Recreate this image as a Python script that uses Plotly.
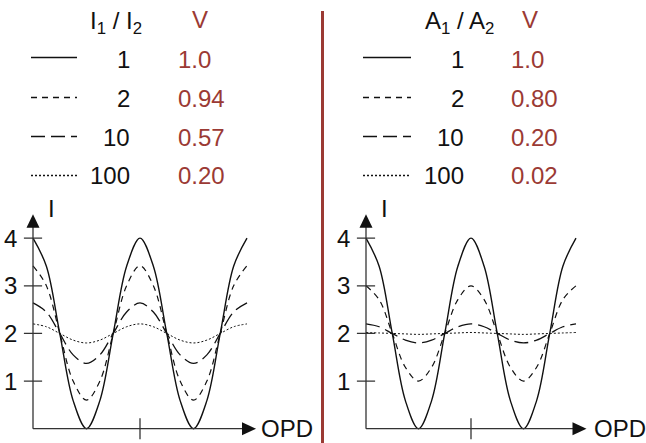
import plotly.graph_objects as go

# ---------------- data ----------------
# OPD positions (in fringe periods), 1/8-period steps over two periods
opd = [i / 8 for i in range(17)]

# one period of readings (x = 0 .. 1), repeated for the 2nd period
left_ratio_labels = ["1", "2", "10", "100"]
left_visibility = ["1.0", "0.94", "0.57", "0.20"]
left_r1 = [4.0, 3.41, 2.0, 0.59, 0.0, 0.59, 2.0, 3.41, 4.0]
left_r2 = [3.42, 3.0, 2.0, 1.0, 0.6, 1.0, 2.0, 3.0, 3.42]
left_r10 = [2.64, 2.45, 2.0, 1.55, 1.37, 1.55, 2.0, 2.45, 2.64]
left_r100 = [2.2, 2.14, 2.0, 1.86, 1.8, 1.86, 2.0, 2.14, 2.2]

right_ratio_labels = ["1", "2", "10", "100"]
right_visibility = ["1.0", "0.80", "0.20", "0.02"]
right_a1 = [4.0, 3.41, 2.0, 0.59, 0.0, 0.59, 2.0, 3.41, 4.0]
right_a2 = [3.0, 2.71, 2.0, 1.29, 1.0, 1.29, 2.0, 2.71, 3.0]
right_a10 = [2.2, 2.14, 2.0, 1.86, 1.8, 1.86, 2.0, 2.14, 2.2]
right_a100 = [2.02, 2.01, 2.0, 1.99, 1.98, 1.99, 2.0, 2.01, 2.02]

y_tick_values = [1, 2, 3, 4]
y_tick_labels = ["1", "2", "3", "4"]
x_tick_values = [1]

left_header = "I<sub>1</sub> / I<sub>2</sub>"
right_header = "A<sub>1</sub> / A<sub>2</sub>"
v_header = "V"
y_title = "I"
x_title = "OPD"

# ---------------- styling ----------------
W, H = 646, 443
FONT = "Liberation Sans, Arial, sans-serif"
FS = 24
RED = "#9b3a34"
AX = "#333333"
TXT = "#111111"
dashes = ["solid", "6px,5px", "14px,6px", "2px,2px"]
widths = [1.4, 1.2, 1.3, 1.0]
Y_TIP = 4.5


def two_periods(p):
    return p + p[1:]


fig = go.Figure()

panels = [
    dict(xa="x", ya="y", series=[left_r1, left_r2, left_r10, left_r100],
         ratios=left_ratio_labels, vis=left_visibility, header=left_header,
         x_end=2.084, opd_x=2.14, ylab_x=0.17,
         sw=(31, 77), num_right=132, v_left=176, head_c=116, v_c=199.5),
    dict(xa="x2", ya="y2", series=[right_a1, right_a2, right_a10, right_a100],
         ratios=right_ratio_labels, vis=right_visibility, header=right_header,
         x_end=2.1, opd_x=2.18, ylab_x=0.18,
         sw=(363, 411), num_right=466, v_left=509, head_c=459, v_c=529.5),
]

row_y = [59, 98, 137, 175.5]   # pixel rows of the key table
swatch_y = [57.5, 97.5, 136.5, 175.5]

annotations = []
shapes = []

for p in panels:
    xr, yr = p["xa"], p["ya"]
    # axis lines
    shapes.append(dict(type="line", xref=xr, yref=yr, x0=0, x1=0, y0=0, y1=Y_TIP - 0.15,
                       line=dict(color=AX, width=1.3)))
    shapes.append(dict(type="line", xref=xr, yref=yr, x0=0, x1=p["x_end"] - 0.08, y0=0, y1=0,
                       line=dict(color=AX, width=1.3)))
    # arrow heads (pixel-sized triangles anchored at the axis ends)
    shapes.append(dict(type="path", xref=xr, yref=yr, xsizemode="pixel", ysizemode="pixel",
                       xanchor=0, yanchor=Y_TIP, path="M-6.5,-13.5 L6.5,-13.5 L0,0 Z",
                       fillcolor="#111111", line=dict(width=0)))
    shapes.append(dict(type="path", xref=xr, yref=yr, xsizemode="pixel", ysizemode="pixel",
                       xanchor=p["x_end"], yanchor=0, path="M-14,-6.5 L-14,6.5 L0,0 Z",
                       fillcolor="#111111", line=dict(width=0)))

    for vals, d, w in zip(p["series"], dashes, widths):
        fig.add_trace(go.Scatter(
            x=opd, y=two_periods(vals), xaxis=xr, yaxis=yr,
            mode="lines", line=dict(color=TXT, width=w, dash=d,
                                    shape="spline", smoothing=1.0),
            hoverinfo="skip", showlegend=False))
    # y ticks (crossing the axis)
    fig.add_trace(go.Scatter(
        x=[0] * len(y_tick_values), y=y_tick_values, xaxis=xr, yaxis=yr,
        mode="markers", marker=dict(symbol="line-ew", size=13,
                                    line=dict(color=AX, width=1.3)),
        hoverinfo="skip", showlegend=False))
    # x tick
    fig.add_trace(go.Scatter(
        x=x_tick_values, y=[0] * len(x_tick_values), xaxis=xr, yaxis=yr,
        mode="markers", marker=dict(symbol="line-ns", size=15,
                                    line=dict(color=AX, width=1.3)),
        hoverinfo="skip", showlegend=False))

    # tick labels
    for tv, tl in zip(y_tick_values, y_tick_labels):
        annotations.append(dict(x=0, y=tv, xref=xr, yref=yr, text=tl,
                                showarrow=False, xanchor="right", yanchor="middle",
                                xshift=-14, font=dict(family=FONT, size=FS, color=TXT)))
    # axis titles
    annotations.append(dict(x=p["ylab_x"], y=4.62, xref=xr, yref=yr, text=y_title,
                            showarrow=False, xanchor="center", yanchor="middle",
                            font=dict(family=FONT, size=FS, color=TXT)))
    annotations.append(dict(x=p["opd_x"], y=0, xref=xr, yref=yr, text=x_title,
                            showarrow=False, xanchor="left", yanchor="middle",
                            xshift=-3, font=dict(family=FONT, size=FS, color=TXT)))

    # key table
    annotations.append(dict(x=p["head_c"] / W, y=1 - 22 / H, xref="paper", yref="paper",
                            text=p["header"], showarrow=False, xanchor="center",
                            yanchor="middle", font=dict(family=FONT, size=FS, color=TXT)))
    annotations.append(dict(x=p["v_c"] / W, y=1 - 20 / H, xref="paper", yref="paper",
                            text=v_header, showarrow=False, xanchor="center",
                            yanchor="middle", font=dict(family=FONT, size=FS, color=RED)))
    for ry, sy, r, v, d in zip(row_y, swatch_y, p["ratios"], p["vis"], dashes):
        shapes.append(dict(type="line", xref="paper", yref="paper",
                           x0=p["sw"][0] / W, x1=p["sw"][1] / W,
                           y0=1 - sy / H, y1=1 - sy / H,
                           line=dict(color=TXT, width=1.4, dash=d)))
        annotations.append(dict(x=p["num_right"] / W, y=1 - ry / H, xref="paper",
                                yref="paper", text=r, showarrow=False,
                                xanchor="right", yanchor="middle",
                                font=dict(family=FONT, size=FS, color=TXT)))
        annotations.append(dict(x=p["v_left"] / W, y=1 - ry / H, xref="paper",
                                yref="paper", text=v, showarrow=False,
                                xanchor="left", yanchor="middle",
                                font=dict(family=FONT, size=FS, color=RED)))

# red divider
shapes.append(dict(type="line", xref="paper", yref="paper",
                   x0=322.5 / W, x1=322.5 / W, y0=-0.05, y1=1 - 11 / H,
                   line=dict(color=RED, width=3)))

# axes: left x=0 at 33px (107 px/unit), right x=0 at 366px (105 px/unit)
xr_rng = [-0.1, 2.3]
lx0 = 33 - 0.1 * 107
rx0 = 366 - 0.1 * 105
ax_common = dict(visible=False, showgrid=False, zeroline=False, fixedrange=True)
# y: 0 at 429px, 47.7 px/unit
y_rng = [-0.3, 4.7]
y_bot = 429 + 0.3 * 47.7
y_top = y_bot - 5 * 47.7

fig.update_layout(
    width=W, height=H, autosize=False,
    margin=dict(l=0, r=0, t=0, b=0),
    paper_bgcolor="white", plot_bgcolor="rgba(0,0,0,0)",
    xaxis=dict(domain=[lx0 / W, (lx0 + 2.4 * 107) / W], range=xr_rng, anchor="y", **ax_common),
    yaxis=dict(domain=[max(0, 1 - y_bot / H), 1 - y_top / H], range=y_rng, anchor="x", **ax_common),
    xaxis2=dict(domain=[rx0 / W, (rx0 + 2.4 * 105) / W], range=xr_rng, anchor="y2", **ax_common),
    yaxis2=dict(domain=[max(0, 1 - y_bot / H), 1 - y_top / H], range=y_rng, anchor="x2", **ax_common),
    annotations=annotations, shapes=shapes,
    font=dict(family=FONT, size=FS),
    showlegend=False,
)

fig.write_html(
    "out.html",
    config={"staticPlot": True},
    post_script="document.body.style.margin='0';document.body.style.overflow='hidden';",
)
